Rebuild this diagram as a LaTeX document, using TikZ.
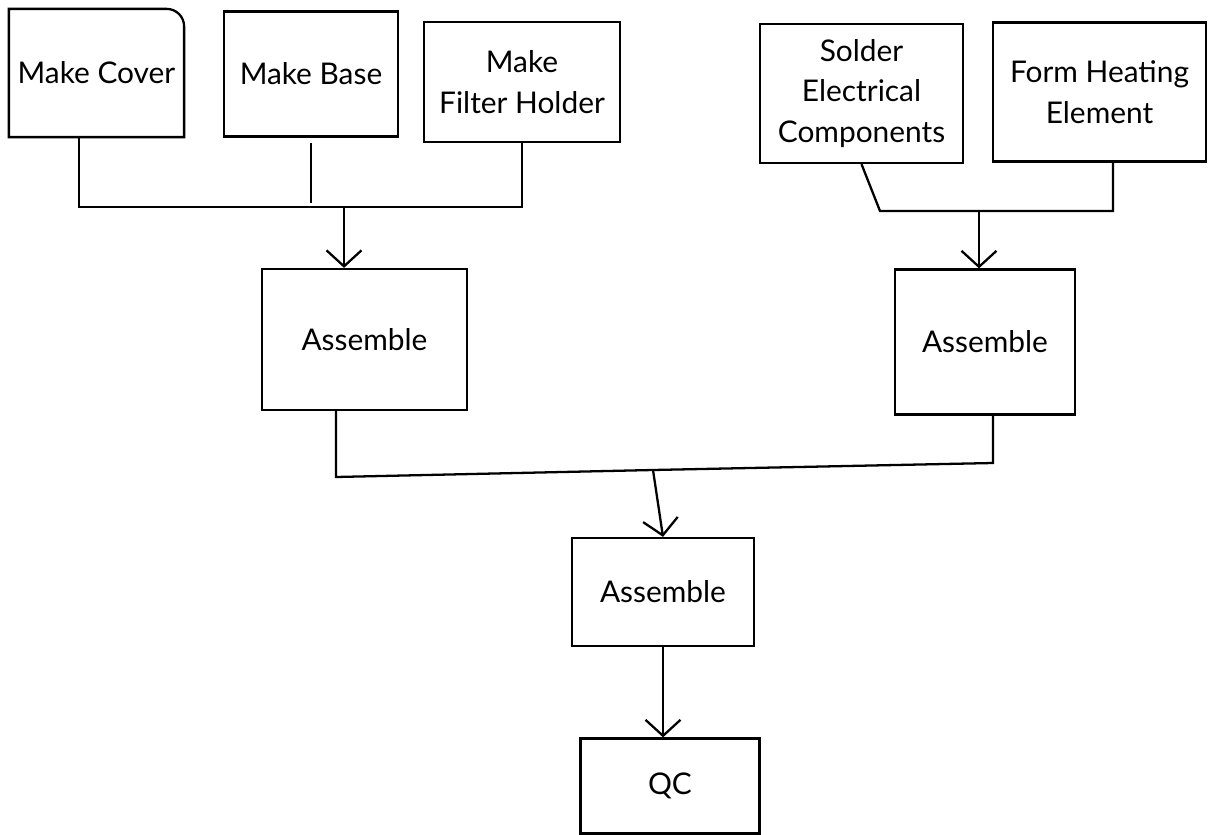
\documentclass[tikz,border=0pt]{standalone}
\usepackage{fontspec}
\setmainfont{Lato}
\usetikzlibrary{arrows.meta}

\begin{document}
\begin{tikzpicture}[x=0.02cm,y=-0.02cm,
        box/.style={draw, line width=1.3pt, align=center, inner sep=2pt, font=\fontsize{17}{23}\selectfont},
        link/.style={line width=1.3pt},
        arr/.style={link, -{Straight Barb[length=0.32cm,width=0.7cm]}}]
        \useasboundingbox (0,0) rectangle (1208,835);
        % parts
        \node[box, draw=none, minimum width=3.46cm, minimum height=2.52cm] (cover) at (96.5,73) {Make Cover};
        \draw[link] (cover.south west) -- (cover.north west) [rounded corners=0.35cm] -- (cover.north east) [sharp corners] -- (cover.south east) -- cycle;
        \node[box, minimum width=3.48cm, minimum height=2.5cm] (base) at (311,74) {Make Base};
        \node[box, minimum width=3.92cm, minimum height=2.4cm] (filter) at (522,82) {Make\\Filter Holder};
        \node[box, minimum width=4.06cm, minimum height=2.78cm] (solder) at (861.5,93.5) {Solder\\Electrical\\Components};
        \node[box, minimum width=4.26cm, minimum height=2.78cm] (form) at (1099.5,92) {Form Heating\\Element};
        % assembly
        \node[box, minimum width=4.1cm, minimum height=2.82cm] (asm1) at (364.5,339.5) {Assemble};
        \node[box, minimum width=3.6cm, minimum height=2.9cm] (asm2) at (985,342) {Assemble};
        \node[box, minimum width=3.64cm, minimum height=2.16cm] (asm3) at (663,592) {Assemble};
        \node[box, minimum width=3.58cm, minimum height=1.9cm] (qc) at (670,786) {QC};
        % joins
        \coordinate (t1) at (79,207);
        \coordinate (j1) at (344,207);
        \coordinate (k2) at (880,211);
        \coordinate (j2) at (979,211);
        \coordinate (k5) at (1113,211);
        \coordinate (k3) at (336,477);
        \coordinate (j3) at (653,470);
        \coordinate (k4) at (993,463);
        \draw[link] (cover.south -| t1) -- (t1) -- (j1) -| (filter.south);
        \draw[link] ([yshift=-0.1cm]base.south) -- ([yshift=0.08cm]base.south |- j1);
        \draw[arr] (j1) -- (j1 |- asm1.north);
        \draw[link] (solder.south) -- (k2) -- (k5) -- (k5 |- form.south);
        \draw[arr] (j2) -- (j2 |- asm2.north);
        \draw[link] (asm1.south -| k3) -- (k3) -- (j3) -- (k4) -- (asm2.south -| k4);
        \draw[arr] (j3) -- (asm3.north);
        \draw[arr] (asm3.south) -- (asm3.south |- qc.north);
\end{tikzpicture}
\end{document}
